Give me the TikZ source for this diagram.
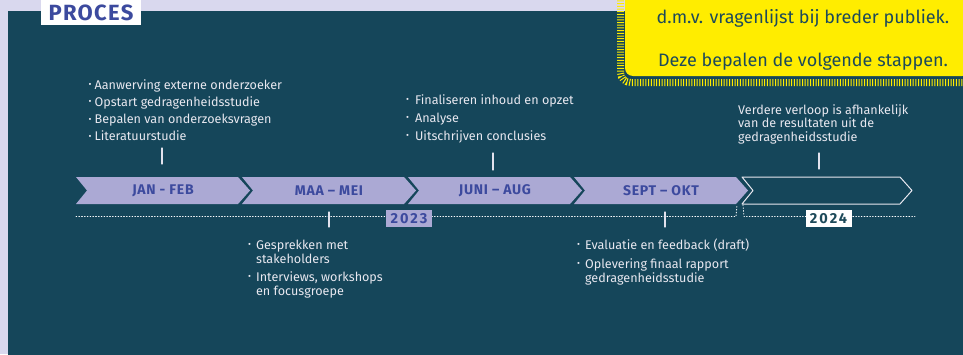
\documentclass[tikz,border=0pt]{standalone}
\usepackage{fontspec}
\setmainfont{Fira Sans}
\usetikzlibrary{positioning}
\definecolor{lila}{HTML}{D9D8EE}
\definecolor{petrol}{HTML}{15465A}
\definecolor{chev}{HTML}{ABA9D4}
\definecolor{blauw}{HTML}{3C4A9E}
\definecolor{geel}{HTML}{FFED00}
\definecolor{licht}{HTML}{E8E8F0}
\definecolor{donker}{HTML}{1D4A5A}
\newcommand{\bol}{\raisebox{1.4pt}{\fontsize{9}{9}\selectfont\textbullet}}
\begin{document}
\begin{tikzpicture}[x=1pt,y=-1pt,line join=round,line cap=round,font=\fontsize{12.6}{14}\selectfont,
	lijst/.style={text=licht,anchor=base west,inner sep=0pt,align=left},
	maand/.style={text=blauw,font=\fontsize{14}{15}\selectfont\bfseries\addfontfeature{LetterSpace=5}},
	jaar/.style={font=\fontsize{14.5}{15}\selectfont\bfseries\addfontfeature{LetterSpace=14},minimum width=46,minimum height=17,inner sep=0pt},
	tick/.style={draw=licht!90!chev,line width=1.3pt}]
	\useasboundingbox (0,0) rectangle (963,354);
	\clip (0,0) rectangle (963,354);
	\fill[lila] (0,0) rectangle (963,354);
	\fill[petrol] (8,11) rectangle (970,360);
	% titel
	\node[fill=white,text=blauw,minimum width=100,minimum height=25,inner sep=0pt,
		font=\fontsize{22}{22}\selectfont\bfseries\addfontfeature{LetterSpace=6}] (titel) at (91,12.5) {PROCES};
	% gele kader
	\draw[geel,line width=7pt,dash pattern=on 1pt off 1.7pt,line cap=butt,rounded corners=10] (620.5,-5) -- (620.5,82.5) -- (970,82.5);
	\fill[geel,rounded corners=8] (625,-10) -- (625,76) -- (970,76) -- (970,-10) -- cycle;
	\node[text=donker,font=\fontsize{18}{20}\selectfont,anchor=base] (geel1) at (803,23) {d.m.v. vragenlijst bij breder publiek.};
	\node[text=donker,font=\fontsize{18}{20}\selectfont,anchor=base] (geel2) at (803,66) {Deze bepalen de volgende stappen.};
	% pijlen
	\foreach \i/\lbl in {0/JAN - FEB,1/MAA – MEI,2/JUNI – AUG,3/SEPT – OKT}{
		\fill[chev,shift={(166*\i,0)}] (76,177) -- (238,177) -- (250,190.5) -- (238,204) -- (76,204) -- (87,190.5) -- cycle;
		\node[maand] (m\i) at (163+166*\i,190.5) {\lbl};
	}
	\draw[licht,line width=1pt] (742,177) -- (900,177) -- (912,190.5) -- (900,204) -- (742,204) -- (753,190.5) -- cycle;
	% tijdlijn
	\draw[white,dotted,line width=.8pt] (76,216.5) -- (736,216.5) -- (737,205);
	\draw[white,dotted,line width=.8pt] (743,205) -- (744,216.5) -- (915,216.5);
	\node[jaar,fill=chev,text=blauw] (j2023) at (409,218.5) {2023};
	\node[jaar,fill=white,text=donker] (j2024) at (828.5,218.5) {2024};
	\path
	(162,148) coordinate (t1)
	(329,212) coordinate (t2)
	(493,153) coordinate (t3)
	(665,212) coordinate (t4)
	(819,153) coordinate (t5)
		;
	\foreach \p/\l in {t1/16,t2/15,t3/17,t4/15,t5/16} \draw[tick] (\p) -- ++(0,\l);
	% teksten
	\node[lijst] (blok1) at (88.5,89) {\begin{tabular}[t]{@{}l@{\hspace{3pt}}l@{}}
		\bol & Aanwerving externe onderzoeker\\[3.3pt]
		\bol & Opstart gedragenheidsstudie\\[3.3pt]
		\bol & Bepalen van onderzoeksvragen\\[3.3pt]
		\bol & Literatuurstudie
	\end{tabular}};
	\node[lijst] (blok3) at (406,104) {\begin{tabular}[t]{@{}l@{\hspace{6pt}}l@{}}
		\bol & Finaliseren inhoud en opzet\\[4pt]
		\bol & Analyse\\[4pt]
		\bol & Uitschrijven conclusies
	\end{tabular}};
	\node[lijst] (blok5) at (738,114) {\begin{tabular}[t]{@{}l@{}}
		Verdere verloop is afhankelijk\\[-.5pt]
		van de resultaten uit de\\[-.5pt]
		gedragenheidsstudie
	\end{tabular}};
	\node[lijst] (blok2) at (248,249) {\begin{tabular}[t]{@{}l@{\hspace{5pt}}l@{}}
		\bol & Gesprekken met\\
		& stakeholders\\[4pt]
		\bol & Interviews, workshops\\
		& en focusgroepe
	\end{tabular}};
	\node[lijst] (blok4) at (577,249) {\begin{tabular}[t]{@{}l@{\hspace{5pt}}l@{}}
		\bol & Evaluatie en feedback (draft)\\[5pt]
		\bol & Oplevering finaal rapport\\
		& gedragenheidsstudie
	\end{tabular}};
\end{tikzpicture}
\end{document}
